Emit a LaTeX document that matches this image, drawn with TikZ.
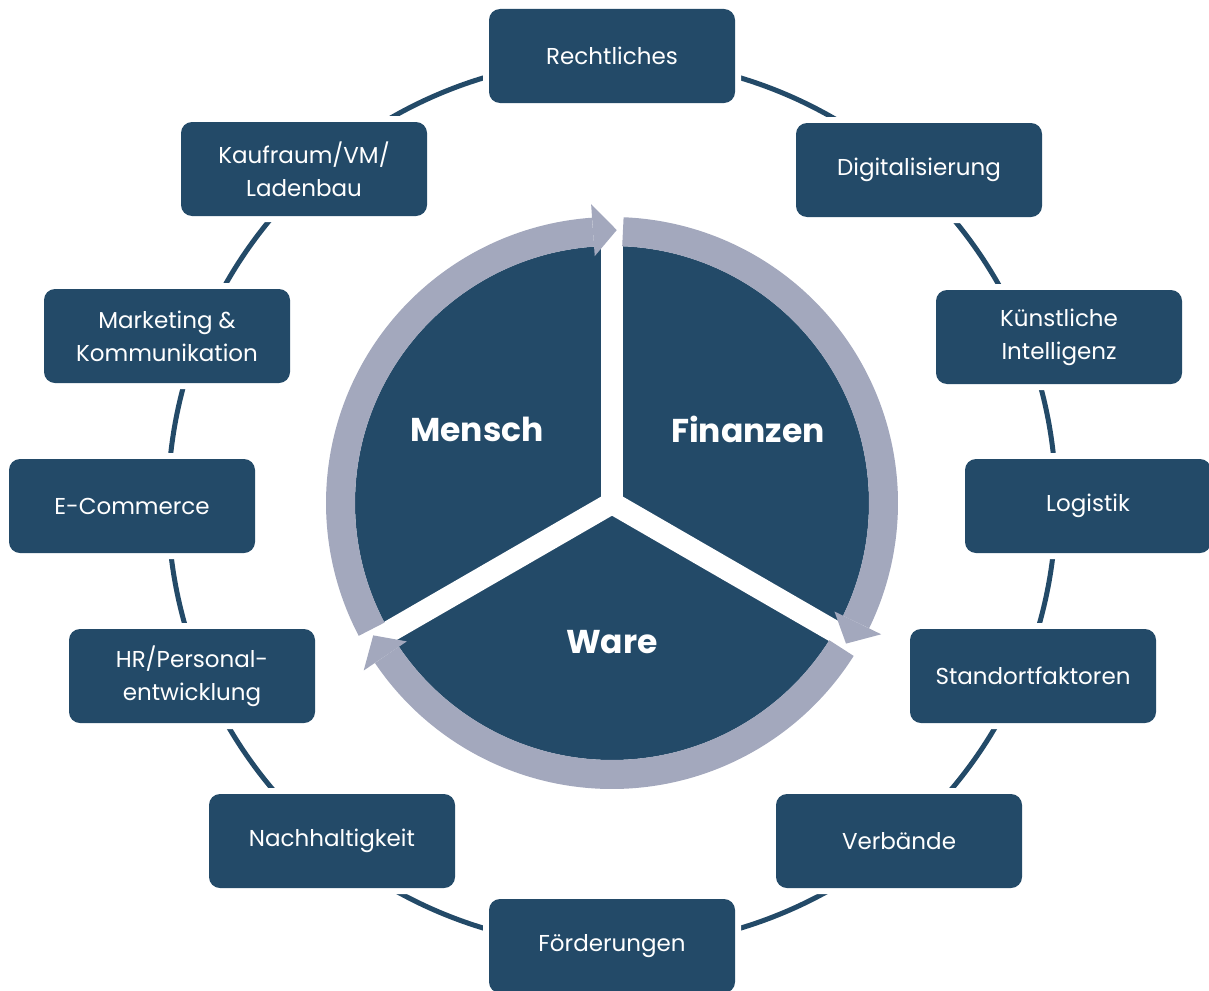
\documentclass[tikz,border=0pt]{standalone}
\usepackage{fontspec}
\setmainfont{Poppins}
\definecolor{boxblue}{RGB}{35,74,104}
\definecolor{ringgray}{RGB}{163,168,189}

\begin{document}
\begin{tikzpicture}[x=1pt,y=1pt,
    topic/.style ={rectangle, rounded corners=11pt, fill=boxblue, text=white,
       minimum width=246pt, minimum height=94pt, align=center,
       font=\fontsize{23}{33}\selectfont,
       preaction={draw=white, line width=12pt}},
    pillar/.style ={text=white, font=\fontsize{33}{40}\selectfont\bfseries}]
   \useasboundingbox (0,0) rectangle (1209,-990);
   \coordinate (M) at (612,-503);

   % outer ring
   \draw[boxblue, line width=5pt] (M) circle (444);

   % pie with three parts
   \fill[boxblue] (M) circle (257);
   \foreach \a in {90,210,330}
     \draw[white, line width=22pt] (M) -- ++(\a:262);

   % gray arrows round the pie
   \begin{scope}[shift={(M)}]
     \foreach \t/\e/\h in {207.7/94/89, 87.7/-26/-31, -32.3/-146/-151} {
       \draw[ringgray, line width=29pt] (\t:271.5) arc[start angle=\t, end angle=\e, radius=271.5];
       \fill[ringgray] (\e:247.5) -- (\h:273) -- (\e:299.5) -- cycle;
     }
   \end{scope}

   \node[pillar] (mensch) at (477,-429) {Mensch};
   \node[pillar] (finanzen) at (748,-429) {Finanzen};
   \node[pillar] (ware) at (612,-642) {Ware};

   \node[topic] (recht) at (612,-56)  {Rechtliches};
   \node[topic] (digi)  at (919,-170) {Digitalisierung};
   \node[topic] (ki)    at (1059,-337) {Künstliche\\Intelligenz};
   \node[topic] (logi)  at (1088,-506) {Logistik};
   \node[topic] (stand) at (1033,-676) {Standortfaktoren};
   \node[topic] (verb)  at (899,-841) {Verbände};
   \node[topic] (foerd) at (612,-946) {Förderungen};
   \node[topic] (nach)  at (332,-841) {Nachhaltigkeit};
   \node[topic] (hr)    at (192,-676) {HR/Personal-\\entwicklung};
   \node[topic] (ecom)  at (132,-506) {E-Commerce};
   \node[topic] (mark)  at (167,-336) {Marketing \&\\Kommunikation};
   \node[topic] (kauf)  at (304,-169) {Kaufraum/VM/\\Ladenbau};
\end{tikzpicture}
\end{document}
